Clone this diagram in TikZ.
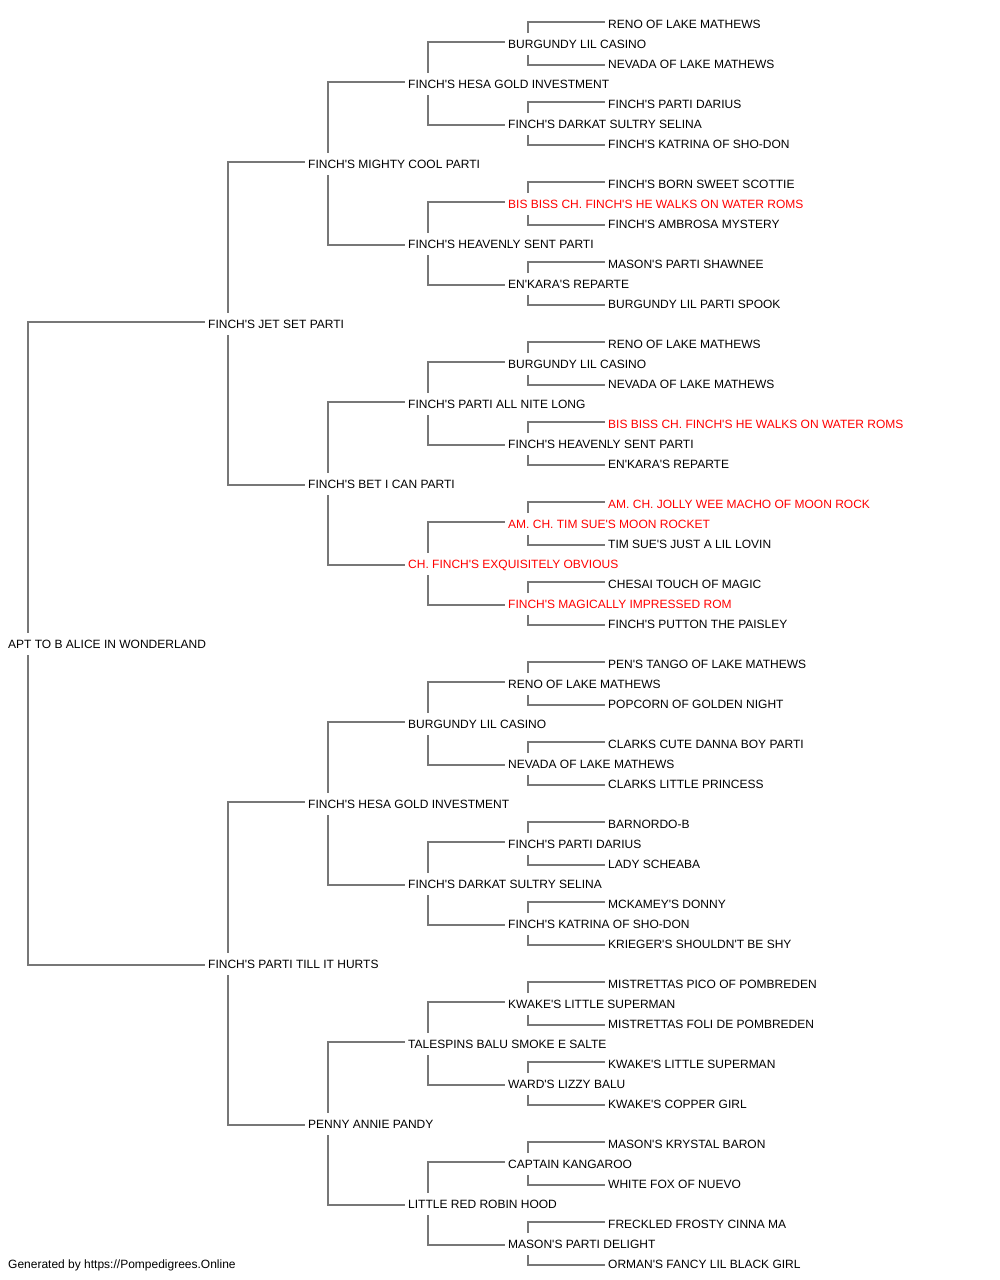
\documentclass[tikz,border=0pt]{standalone}
\usepackage{fontspec}
\setmainfont{Liberation Sans}[Ligatures=TeXOff]
\usetikzlibrary{backgrounds}
\definecolor{linegray}{RGB}{119,119,119}
\definecolor{champred}{RGB}{255,0,0}
\begin{document}
\begin{tikzpicture}[x=1pt,y=-1pt,
  nm/.style={anchor=west,inner xsep=3pt,inner ysep=6.5pt,text height=8.6pt,text depth=0pt,
    fill=white,font=\fontsize{12}{14}\selectfont,text=black},
  ch/.style={nm,text=champred},
  conn/.style={draw=linegray,line width=2pt}]
\useasboundingbox (0,0) rectangle (1000,1280);
% generation x (text left - 3): g0 5, g1 205, g2 305, g3 405, g4 505, g5 605
\node[nm] (n0) at (605,24) {RENO OF LAKE MATHEWS};
\node[nm] (n1) at (505,44) {BURGUNDY LIL CASINO};
\node[nm] (n2) at (605,64) {NEVADA OF LAKE MATHEWS};
\node[nm] (n3) at (405,84) {FINCH'S HESA GOLD INVESTMENT};
\node[nm] (n4) at (605,104) {FINCH'S PARTI DARIUS};
\node[nm] (n5) at (505,124) {FINCH'S DARKAT SULTRY SELINA};
\node[nm] (n6) at (605,144) {FINCH'S KATRINA OF SHO-DON};
\node[nm] (n7) at (305,164) {FINCH'S MIGHTY COOL PARTI};
\node[nm] (n8) at (605,184) {FINCH'S BORN SWEET SCOTTIE};
\node[ch] (n9) at (505,204) {BIS BISS CH. FINCH'S HE WALKS ON WATER ROMS};
\node[nm] (n10) at (605,224) {FINCH'S AMBROSA MYSTERY};
\node[nm] (n11) at (405,244) {FINCH'S HEAVENLY SENT PARTI};
\node[nm] (n12) at (605,264) {MASON'S PARTI SHAWNEE};
\node[nm] (n13) at (505,284) {EN'KARA'S REPARTE};
\node[nm] (n14) at (605,304) {BURGUNDY LIL PARTI SPOOK};
\node[nm] (n15) at (205,324) {FINCH'S JET SET PARTI};
\node[nm] (n16) at (605,344) {RENO OF LAKE MATHEWS};
\node[nm] (n17) at (505,364) {BURGUNDY LIL CASINO};
\node[nm] (n18) at (605,384) {NEVADA OF LAKE MATHEWS};
\node[nm] (n19) at (405,404) {FINCH'S PARTI ALL NITE LONG};
\node[ch] (n20) at (605,424) {BIS BISS CH. FINCH'S HE WALKS ON WATER ROMS};
\node[nm] (n21) at (505,444) {FINCH'S HEAVENLY SENT PARTI};
\node[nm] (n22) at (605,464) {EN'KARA'S REPARTE};
\node[nm] (n23) at (305,484) {FINCH'S BET I CAN PARTI};
\node[ch] (n24) at (605,504) {AM. CH. JOLLY WEE MACHO OF MOON ROCK};
\node[ch] (n25) at (505,524) {AM. CH. TIM SUE'S MOON ROCKET};
\node[nm] (n26) at (605,544) {TIM SUE'S JUST A LIL LOVIN};
\node[ch] (n27) at (405,564) {CH. FINCH'S EXQUISITELY OBVIOUS};
\node[nm] (n28) at (605,584) {CHESAI TOUCH OF MAGIC};
\node[ch] (n29) at (505,604) {FINCH'S MAGICALLY IMPRESSED ROM};
\node[nm] (n30) at (605,624) {FINCH'S PUTTON THE PAISLEY};
\node[nm] (n31) at (5,644) {APT TO B ALICE IN WONDERLAND};
\node[nm] (n32) at (605,664) {PEN'S TANGO OF LAKE MATHEWS};
\node[nm] (n33) at (505,684) {RENO OF LAKE MATHEWS};
\node[nm] (n34) at (605,704) {POPCORN OF GOLDEN NIGHT};
\node[nm] (n35) at (405,724) {BURGUNDY LIL CASINO};
\node[nm] (n36) at (605,744) {CLARKS CUTE DANNA BOY PARTI};
\node[nm] (n37) at (505,764) {NEVADA OF LAKE MATHEWS};
\node[nm] (n38) at (605,784) {CLARKS LITTLE PRINCESS};
\node[nm] (n39) at (305,804) {FINCH'S HESA GOLD INVESTMENT};
\node[nm] (n40) at (605,824) {BARNORDO-B};
\node[nm] (n41) at (505,844) {FINCH'S PARTI DARIUS};
\node[nm] (n42) at (605,864) {LADY SCHEABA};
\node[nm] (n43) at (405,884) {FINCH'S DARKAT SULTRY SELINA};
\node[nm] (n44) at (605,904) {MCKAMEY'S DONNY};
\node[nm] (n45) at (505,924) {FINCH'S KATRINA OF SHO-DON};
\node[nm] (n46) at (605,944) {KRIEGER'S SHOULDN'T BE SHY};
\node[nm] (n47) at (205,964) {FINCH'S PARTI TILL IT HURTS};
\node[nm] (n48) at (605,984) {MISTRETTAS PICO OF POMBREDEN};
\node[nm] (n49) at (505,1004) {KWAKE'S LITTLE SUPERMAN};
\node[nm] (n50) at (605,1024) {MISTRETTAS FOLI DE POMBREDEN};
\node[nm] (n51) at (405,1044) {TALESPINS BALU SMOKE E SALTE};
\node[nm] (n52) at (605,1064) {KWAKE'S LITTLE SUPERMAN};
\node[nm] (n53) at (505,1084) {WARD'S LIZZY BALU};
\node[nm] (n54) at (605,1104) {KWAKE'S COPPER GIRL};
\node[nm] (n55) at (305,1124) {PENNY ANNIE PANDY};
\node[nm] (n56) at (605,1144) {MASON'S KRYSTAL BARON};
\node[nm] (n57) at (505,1164) {CAPTAIN KANGAROO};
\node[nm] (n58) at (605,1184) {WHITE FOX OF NUEVO};
\node[nm] (n59) at (405,1204) {LITTLE RED ROBIN HOOD};
\node[nm] (n60) at (605,1224) {FRECKLED FROSTY CINNA MA};
\node[nm] (n61) at (505,1244) {MASON'S PARTI DELIGHT};
\node[nm] (n62) at (605,1264) {ORMAN'S FANCY LIL BLACK GIRL};
\node[anchor=base west,inner sep=0pt,font=\fontsize{12}{14}\selectfont] (footer) at (8,1268.3) {Generated by https://Pompedigrees.Online};
\begin{pgfonlayer}{background}
\foreach \p/\d in {1/1,5/1,9/1,13/1,17/1,21/1,25/1,29/1,33/1,37/1,41/1,45/1,49/1,53/1,57/1,61/1,
  3/2,11/2,19/2,27/2,35/2,43/2,51/2,59/2,7/4,23/4,39/4,55/4,15/8,47/8,31/16}{
  \pgfmathtruncatemacro\sk{\p-\d}
  \pgfmathtruncatemacro\dk{\p+\d}
  \draw[conn] ([yshift=2pt]n\sk.west) -| ([xshift=23pt]n\p.west);
  \draw[conn] ([yshift=-1pt]n\dk.west) -| ([xshift=23pt]n\p.west);
}
\end{pgfonlayer}
\end{tikzpicture}
\end{document}
